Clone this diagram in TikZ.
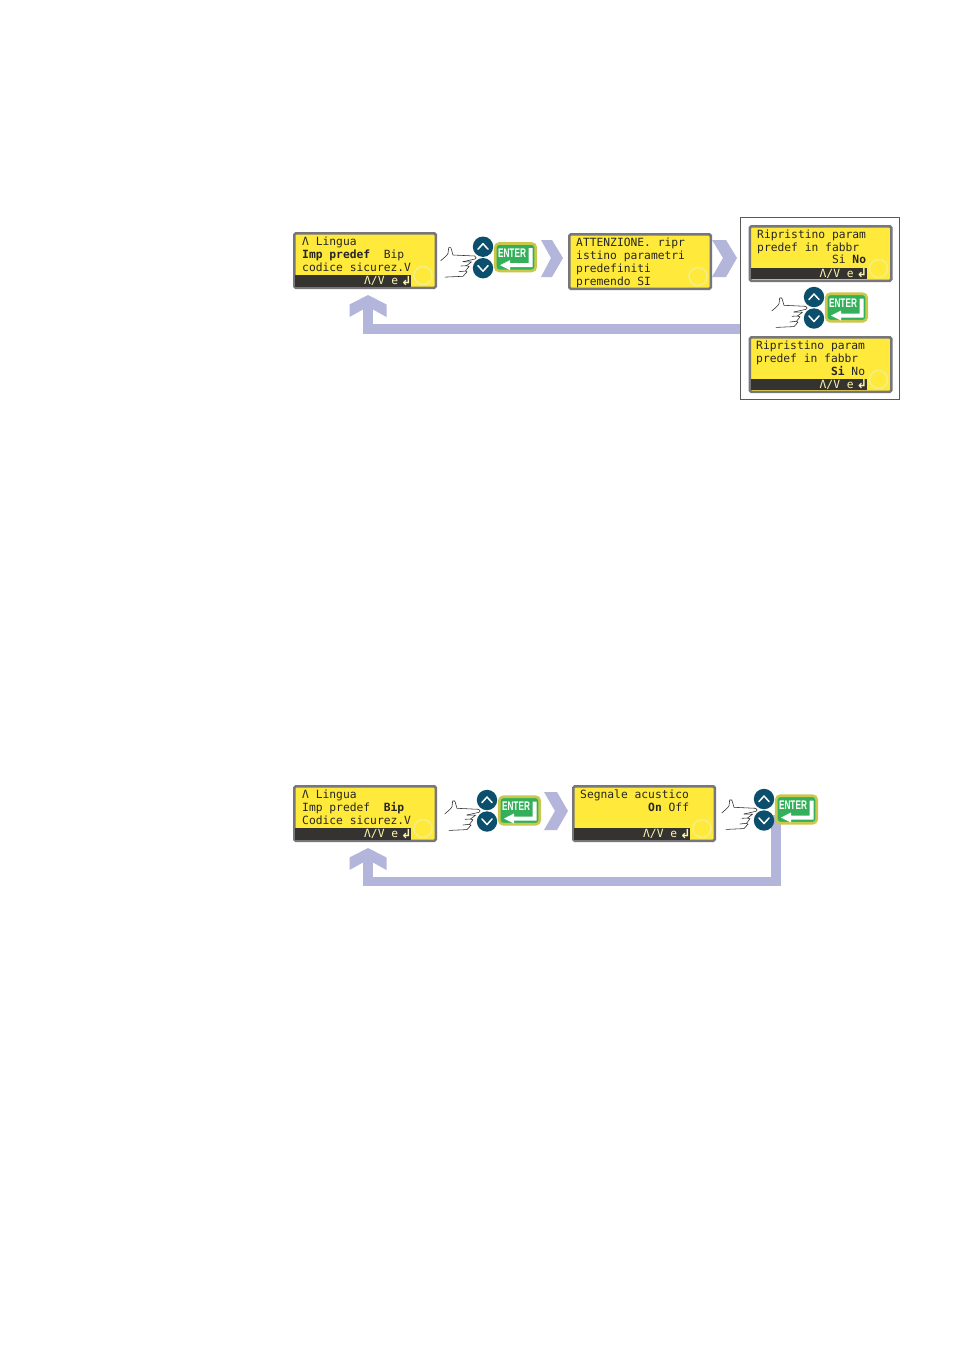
\documentclass[tikz,border=0pt]{standalone}
\usepackage{fontspec}
\setmainfont{Liberation Sans}
\newfontfamily\lcdf{DejaVu Sans Mono}
\newfontfamily\symf{DejaVu Sans}
\usetikzlibrary{backgrounds,calc}
\definecolor{lcdy}{HTML}{FFE93B}
\definecolor{lcdg}{HTML}{77767A}
\definecolor{lcdk}{HTML}{35332F}
\definecolor{fbc}{HTML}{B4B5DA}
\definecolor{teal}{HTML}{0B4F6C}
\definecolor{entg}{HTML}{35B05A}
\definecolor{ento}{HTML}{C9C84A}
\definecolor{ringc}{HTML}{F4EE84}
\tikzset{
  lcdbox/.style={draw=lcdg,fill=lcdy,line width=2.6pt,rounded corners=1.5pt,minimum width=141.5pt,minimum height=54.5pt,inner sep=0pt,anchor=north west},
  lcdtxt/.style={inner sep=0pt,anchor=base west,font=\lcdf\fontsize{11.3}{13}\selectfont,text=black!85},
  bartxt/.style={inner sep=0pt,anchor=base east,font=\lcdf\fontsize{11.3}{13}\selectfont,text=lcdy!40},
  barbox/.style={fill=lcdk,draw=none,inner sep=0pt,anchor=north west,minimum height=11.5pt},
  ringn/.style={circle,draw=ringc,line width=1.6pt,minimum size=18pt,inner sep=0pt},
  fbline/.style={draw=fbc,line width=9.5pt},
  chev/.style={fill=fbc},
  keyb/.style={circle,fill=teal,minimum size=20.4pt,inner sep=0pt},
  keym/.style={draw=white,line width=1.5pt,line cap=round,line join=round},
  handl/.style={draw=black!85,line width=.55pt,line join=round,line cap=round},
  entb/.style={draw=ento,fill=entg,line width=2.6pt,rounded corners=4pt,minimum width=40.5pt,minimum height=27.5pt,inner sep=0pt},
  keypad/.pic={
    \node[keyb] (-up) at (0,0) {};
    \node[keyb] (-down) at (0,21.5) {};
    \draw[keym] (-5,2.5) -- (0,-3) -- (5,2.5);
    \draw[keym] (-5,19) -- (0,24.5) -- (5,19);
    \node[entb] (-enter) at (32.5,10.5) {};
    \node[inner sep=0pt,text=white,font=\bfseries\fontsize{12.5}{12}\selectfont] (-label) at (29,6) {\scalebox{.66}[1]{ENTER}};
    \fill[white] (49.5,1.5) -- (49.5,20.5) -- (27,20.5) -- (27,23.5) -- (17,18.5) -- (27,13.5) -- (27,16.5) -- (45.5,16.5) -- (45.5,1.5) -- cycle;
    \draw[handl,fill=white] (-42.3,14) .. controls (-39,11) and (-36,9) .. (-35,6.7) -- (-34.3,1) .. controls (-32.5,0.5) and (-31.5,1) .. (-31.7,2.5) -- (-30,8.3) -- (-8.3,9.3) .. controls (-6.5,10) and (-6.5,12) .. (-8,12.3) -- (-20,15);
    \draw[handl] (-20,15) -- (-11.5,15.2) -- (-16.5,19) -- (-22,19.3);
    \draw[handl] (-16.5,19) -- (-14,19.8) -- (-17.5,24.3) -- (-24,25);
    \draw[handl] (-17.5,24.3) -- (-16,25.2) -- (-20,29.6) -- (-38,30.4);
  },
}
\newcommand{\lcdpanel}[5]{%
  \node[lcdbox] (#1) at (#2,#3) {};
  \node[ringn] (#1ring) at ($(#1.north west)+(130,43.5)$) {};
  \ifnum#4>0
    \node[barbox,minimum width=#4 pt] (#1bar) at ($(#1.north west)+(2,#5)$) {};
    \node[bartxt] (#1bt) at ($(#1bar.east)+(-13,4)$) {Λ/V e};
    \node[inner sep=0pt,anchor=east,text=lcdy!40,font=\symf\bfseries\fontsize{12.5}{12}\selectfont] (#1bs) at ($(#1bar.east)+(0.3,0)$) {↲};
  \fi
}
\newcommand{\lcdline}[4]{\node[lcdtxt] (#1) at (#2,#3) {#4};}
\begin{document}
\begin{tikzpicture}[x=1pt,y=-1pt]
\useasboundingbox (0,0) rectangle (954,1350);
% displays
\lcdpanel{A}{293}{232}{116}{43}
\lcdline{Aa}{302}{245}{Λ Lingua}
\lcdline{Ab}{302}{258}{\textbf{Imp predef}\ \ Bip}
\lcdline{Ac}{302}{271}{codice sicurez.V}
\lcdpanel{B}{568}{233}{0}{0}
\lcdline{Ba}{576}{246}{ATTENZIONE. ripr}
\lcdline{Bb}{576}{259}{istino parametri}
\lcdline{Bc}{576}{272}{predefiniti}
\lcdline{Bd}{576}{285}{premendo SI}
\node[draw=black!65,line width=.6pt,minimum width=159.5pt,minimum height=182pt,inner sep=0pt] (frame) at (819.7,308) {};
\lcdpanel{C}{748.5}{225}{116}{42.5}
\lcdline{Ca}{757}{238}{Ripristino param}
\lcdline{Cb}{757}{251}{predef in fabbr}
\lcdline{Cc}{757}{263}{\ \ \ \ \ \ \ \ \ \ \ Si \textbf{No}}
\lcdpanel{D}{748.5}{336}{116}{42.5}
\lcdline{Da}{756}{349}{Ripristino param}
\lcdline{Db}{756}{362}{predef in fabbr}
\lcdline{Dc}{756}{375}{\ \ \ \ \ \ \ \ \ \ \ \textbf{Si} No}
\lcdpanel{E}{293}{785}{116}{43}
\lcdline{Ea}{302}{798}{Λ Lingua}
\lcdline{Eb}{302}{811}{Imp predef\ \ \textbf{Bip}}
\lcdline{Ec}{302}{824}{Codice sicurez.V}
\lcdpanel{F}{572}{785}{116}{43}
\lcdline{Fa}{580}{798}{Segnale acustico}
\lcdline{Fb}{580}{811}{\ \ \ \ \ \ \ \ \ \ \textbf{On} Off}
% keypads
\pic (kA) at (483,246.7) {keypad};
\pic (kB) at (814,297) {keypad};
\pic (kC) at (487,800) {keypad};
\pic (kD) at (764,799) {keypad};
% chevrons
\fill[chev] (541,240) -- (552,240) -- (563,258) -- (552,277) -- (541,277) -- (551,258) -- cycle;
\fill[chev] (712,240) -- (726,240) -- (737,258) -- (726,277) -- (712,277) -- (723,258) -- cycle;
\fill[chev] (544,792) -- (557,792) -- (568,811) -- (557,830) -- (544,830) -- (555,811) -- cycle;
% feedback arrows
\coordinate (hA) at (368,295);
\coordinate (hE) at (368,848);
\coordinate (tA) at (368,306);
\coordinate (tE) at (368,859);
\coordinate (sD) at (776,815);
\coordinate (yA) at (frame.west |- 0,329);
\begin{scope}[on background layer]
\fill[white] (0,0) rectangle (954,1350);
\draw[fbline] (yA) -| (tA);
\draw[fbline] (sD) |- (500,881.5) -| (tE);
\end{scope}
\foreach \h in {hA,hE}
  \fill[chev] (\h) -- ++(18.5,9.5) -- ++(0,12.5) -- ++(-13.5,-7.5) -- ++(-10,0) -- ++(-13.5,7.5) -- ++(0,-12.5) -- cycle;
\end{tikzpicture}
\end{document}
